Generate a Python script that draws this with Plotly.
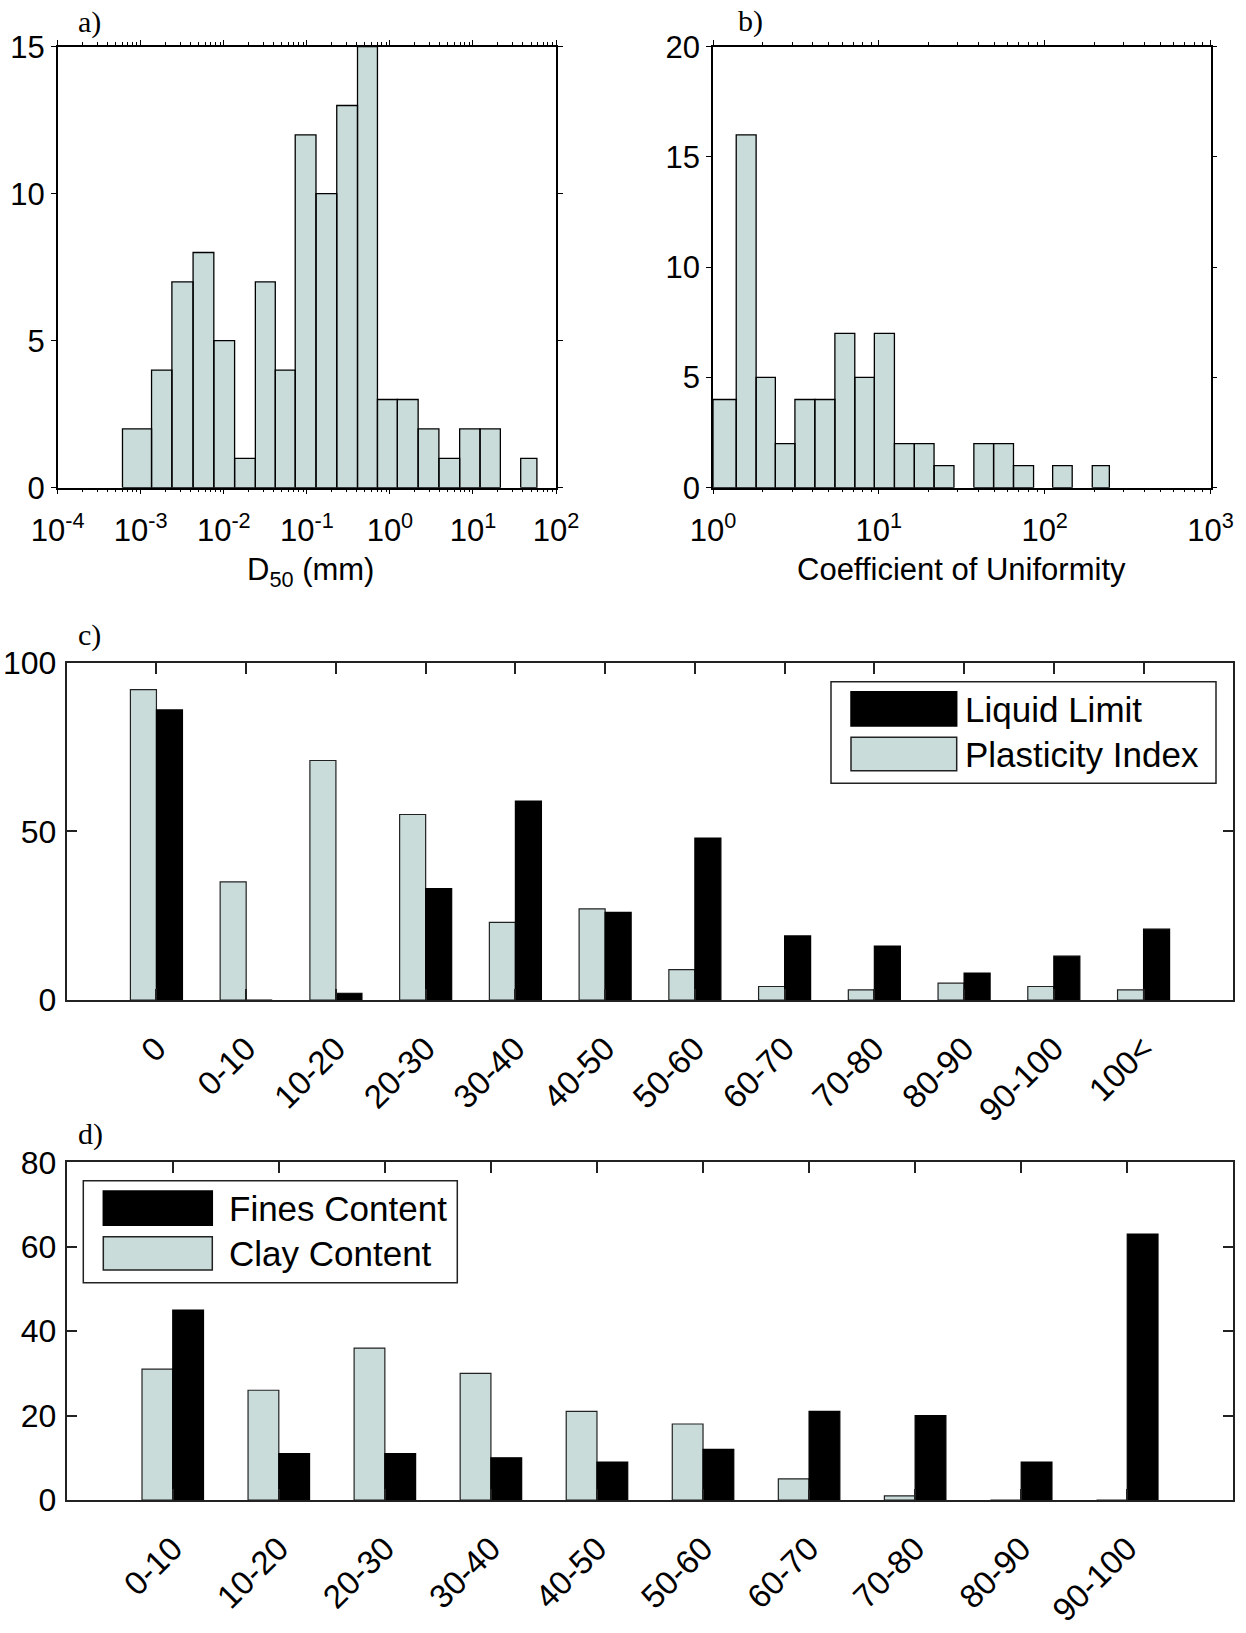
import plotly.graph_objects as go

W, H = 1246, 1633

# ---- data -------------------------------------------------------------
# a) D50 histogram: bin edges given as log10(mm), counts per bin
d50_log_edges = [-3.22, -2.87, -2.625, -2.37, -2.12, -1.87, -1.62, -1.38, -1.14,
                 -0.89, -0.64, -0.39, -0.15, 0.09, 0.34, 0.59, 0.84, 1.085,
                 1.33, 1.575, 1.77]
d50_counts = [2, 4, 7, 8, 5, 1, 7, 4, 12, 10, 13, 15, 3, 3, 2, 1, 2, 2, 0, 1]

# b) Coefficient of uniformity histogram: log10 bin edges, counts per bin
cu_log_edges = [0.0, 0.14, 0.26, 0.376, 0.494, 0.614, 0.735, 0.855, 0.973,
                1.094, 1.214, 1.333, 1.453, 1.573, 1.692, 1.812, 1.933, 2.048,
                2.166, 2.287, 2.39]
cu_counts = [4, 16, 5, 2, 4, 4, 7, 5, 7, 2, 2, 1, 0, 2, 2, 1, 0, 1, 0, 1]

# c) Atterberg limits
atterberg_bins = ["0", "0-10", "10-20", "20-30", "30-40", "40-50", "50-60",
                  "60-70", "70-80", "80-90", "90-100", "100<"]
plasticity_index = [92, 35, 71, 55, 23, 27, 9, 4, 3, 5, 4, 3]
liquid_limit = [86, 0, 2, 33, 59, 26, 48, 19, 16, 8, 13, 21]

# d) Fines / clay content
content_bins = ["0-10", "10-20", "20-30", "30-40", "40-50", "50-60", "60-70",
                "70-80", "80-90", "90-100"]
clay_content = [31, 26, 36, 30, 21, 18, 5, 1, 0, 0]
fines_content = [45, 11, 11, 10, 9, 12, 21, 20, 9, 63]

# ---- style ------------------------------------------------------------
LIGHT = "#c9dcda"
SANS = "Liberation Sans, Arial, sans-serif"
SERIF = "Liberation Serif, Times New Roman, serif"


def fx(px):
    return px / W


def fy(py):
    return 1 - py / H


def hist_outline(log_edges, counts):
    """Closed rectangles (separated by gaps) for every non-empty bin."""
    xs, ys = [], []
    for i, c in enumerate(counts):
        if c <= 0:
            continue
        lo, hi = 10 ** log_edges[i], 10 ** log_edges[i + 1]
        xs += [lo, lo, hi, hi, lo, None]
        ys += [0, c, c, 0, 0, None]
    return xs, ys


fig = go.Figure()

xa, ya = hist_outline(d50_log_edges, d50_counts)
fig.add_trace(go.Scatter(x=xa, y=ya, mode="lines", fill="toself",
                         fillcolor=LIGHT, line=dict(color="black", width=1.3),
                         xaxis="x", yaxis="y", showlegend=False,
                         hoverinfo="skip"))

xb, yb = hist_outline(cu_log_edges, cu_counts)
fig.add_trace(go.Scatter(x=xb, y=yb, mode="lines", fill="toself",
                         fillcolor=LIGHT, line=dict(color="black", width=1.3),
                         xaxis="x2", yaxis="y2", showlegend=False,
                         hoverinfo="skip"))

fig.add_trace(go.Bar(x=atterberg_bins, y=plasticity_index, name="Plasticity Index",
                     marker=dict(color=LIGHT, line=dict(color="#222", width=1.2)),
                     xaxis="x3", yaxis="y3", showlegend=False, offsetgroup="pi"))
fig.add_trace(go.Bar(x=atterberg_bins, y=liquid_limit, name="Liquid Limit",
                     marker=dict(color="black", line=dict(color="black", width=1.2)),
                     xaxis="x3", yaxis="y3", showlegend=False, offsetgroup="ll"))

fig.add_trace(go.Bar(x=content_bins, y=clay_content, name="Clay Content",
                     marker=dict(color=LIGHT, line=dict(color="#222", width=1.2)),
                     xaxis="x4", yaxis="y4", showlegend=False, offsetgroup="cc"))
fig.add_trace(go.Bar(x=content_bins, y=fines_content, name="Fines Content",
                     marker=dict(color="black", line=dict(color="black", width=1.2)),
                     xaxis="x4", yaxis="y4", showlegend=False, offsetgroup="fc"))

# ---- axes -------------------------------------------------------------
A_X = (57.7, 556.0)
B_X = (713.0, 1210.5)
AB_Y = (46.7, 487.7)
CD_X = (66.7, 1233.3)
C_Y = (662.7, 1000.0)
D_Y = (1162.3, 1500.0)


def dom_x(p):
    return [fx(p[0]), fx(p[1])]


def dom_y(p):
    return [fy(p[1]), fy(p[0])]


def log_axis(lo, hi, domain, anchor):
    major = [10.0 ** k for k in range(lo, hi + 1)]
    labels = ["10<sup>%d</sup>" % k for k in range(lo, hi + 1)]
    minor = [m * 10.0 ** k for k in range(lo, hi) for m in range(2, 10)]
    return dict(type="log", range=[lo, hi], domain=domain, anchor=anchor,
                automargin=False,
                tickmode="array", tickvals=major, ticktext=labels,
                ticks="outside", ticklen=5, tickwidth=1.2, tickcolor="black",
                minor=dict(tickmode="array", tickvals=minor, ticks="outside",
                           ticklen=3, tickwidth=1, tickcolor="black",
                           showgrid=False),
                showline=True, linecolor="black", linewidth=1.5,
                mirror="ticks", showgrid=False, zeroline=False,
                tickfont=dict(family=SANS, size=31, color="black"),
                ticklabelstandoff=9)


def count_axis(top, step, domain, anchor, size, inside=False, standoff=8):
    return dict(range=[0, top], domain=domain, anchor=anchor,
                automargin=False,
                tickmode="array", tickvals=list(range(0, top + 1, step)),
                ticks="inside" if inside else "outside",
                ticklen=10 if inside else 5, tickwidth=1.5 if inside else 1.2,
                tickcolor="#222" if inside else "black",
                showline=True, linecolor="#222" if inside else "black",
                linewidth=2 if inside else 1.5,
                mirror="ticks", showgrid=False, zeroline=False,
                tickfont=dict(family=SANS, size=size, color="black"),
                ticklabelstandoff=standoff)


def cat_axis(n, domain, anchor):
    return dict(type="category", range=[-1, n], domain=domain, anchor=anchor,
                automargin=False,
                ticks="inside", ticklen=11, tickwidth=1.5, tickcolor="#222",
                tickangle=-45, showline=True, linecolor="#222", linewidth=2,
                mirror="ticks", showgrid=False, zeroline=False,
                tickfont=dict(family=SANS, size=33, color="black"),
                ticklabelstandoff=14)


fig.update_layout(
    width=W, height=H,
    margin=dict(l=0, r=0, t=0, b=0, autoexpand=False),
    paper_bgcolor="white", plot_bgcolor="white",
    barmode="group", bargap=0.42, bargroupgap=0,
    xaxis=log_axis(-4, 2, dom_x(A_X), "y"),
    yaxis=count_axis(15, 5, dom_y(AB_Y), "x", 31, standoff=0),
    xaxis2=log_axis(0, 3, dom_x(B_X), "y2"),
    yaxis2=count_axis(20, 5, dom_y(AB_Y), "x2", 31, standoff=0),
    xaxis3=cat_axis(len(atterberg_bins), dom_x(CD_X), "y3"),
    yaxis3=count_axis(100, 50, dom_y(C_Y), "x3", 32, inside=True, standoff=2),
    xaxis4=cat_axis(len(content_bins), dom_x(CD_X), "y4"),
    yaxis4=count_axis(80, 20, dom_y(D_Y), "x4", 32, inside=True, standoff=2),
)

# ---- text: panel letters, axis titles, legends ---------------------------
annotations = []


def add_text(text, x, y, size, family=SANS, xanchor="center", yanchor="middle"):
    annotations.append(dict(text=text, x=fx(x), y=fy(y), xref="paper",
                            yref="paper", showarrow=False, xanchor=xanchor,
                            yanchor=yanchor,
                            font=dict(family=family, size=size, color="black")))


add_text("a)", 89, 22, 30, SERIF)
add_text("b)", 750, 21, 30, SERIF)
add_text("c)", 89, 635, 30, SERIF)
add_text("d)", 90, 1134, 30, SERIF)

add_text("D<sub>50</sub> (mm)", 310, 572, 31)
add_text("Coefficient of Uniformity", 961, 569, 31)

shapes = []


def rect(x0, y0, x1, y1, fill, line="#222", width=1.5):
    shapes.append(dict(type="rect", xref="paper", yref="paper",
                       x0=fx(x0), x1=fx(x1), y0=fy(y1), y1=fy(y0),
                       fillcolor=fill, line=dict(color=line, width=width),
                       layer="above"))


# legend for c)
rect(831, 681.7, 1216, 783.3, "white")
rect(851, 691.7, 956.7, 726, "black", "black")
rect(851, 737.3, 956.7, 770.7, LIGHT)
add_text("Liquid Limit", 963, 709, 35, xanchor="left")
add_text("Plasticity Index", 963, 754, 35, xanchor="left")

# legend for d)
rect(83.3, 1180.7, 457.3, 1282.7, "white")
rect(103.3, 1191, 212.3, 1225.3, "black", "black")
rect(103.3, 1236.7, 212.3, 1270, LIGHT)
add_text("Fines Content", 226.7, 1208, 35, xanchor="left")
add_text("Clay Content", 226.7, 1253, 35, xanchor="left")

fig.update_layout(annotations=annotations, shapes=shapes)

fig.write_html("out.html")
